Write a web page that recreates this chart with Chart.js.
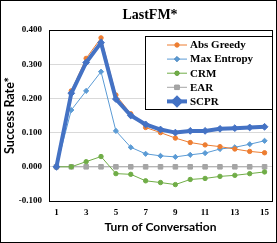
<!DOCTYPE html>
<html>
<head>
<meta charset="utf-8">
<script src="https://cdn.jsdelivr.net/npm/chart.js@4/dist/chart.umd.min.js"></script>
<style>
  html, body { margin: 0; padding: 0; background: #fff; }
  #wrap { width: 277px; height: 243px; position: relative; }
</style>
</head>
<body>
<div id="wrap"><canvas id="c"></canvas></div>
<script>
const turns = ["1", "2", "3", "4", "5", "6", "7", "8", "9", "10", "11", "12", "13", "14", "15"];
const absGreedy = [0, 0.222, 0.317, 0.377, 0.210, 0.155, 0.115, 0.100, 0.084, 0.071, 0.064, 0.059, 0.052, 0.045, 0.041];
const maxEntropy = [0, 0.166, 0.222, 0.278, 0.105, 0.057, 0.038, 0.032, 0.029, 0.035, 0.040, 0.052, 0.057, 0.066, 0.076];
const crm = [0, 0, 0.015, 0.030, -0.020, -0.022, -0.041, -0.046, -0.052, -0.037, -0.034, -0.028, -0.025, -0.020, -0.015];
const ear = [0, 0, 0, 0, 0, 0, 0, 0, 0, 0, 0, 0, 0, 0, 0];
const scpr = [0, 0.215, 0.305, 0.363, 0.198, 0.150, 0.124, 0.109, 0.100, 0.105, 0.105, 0.111, 0.113, 0.115, 0.117];
const yTicks = [-0.1, 0, 0.1, 0.2, 0.3, 0.4];

const SERIF = "'Liberation Serif', 'Times New Roman', serif";
const SANS = "Lato, 'Liberation Sans', sans-serif";

function series(label, data, color, style, width, radius, order) {
    return {
        label, data,
        borderColor: color, backgroundColor: color,
        borderWidth: width,
        pointStyle: style, pointRadius: radius,
        pointBorderWidth: 1, pointBorderColor: color, pointBackgroundColor: color,
        tension: 0, order,
    };
}

// frame, plot border, title and the boxed legend inside the plot
const decor = {
    id: "decor",
    afterDraw(chart) {
        const { ctx, chartArea: a } = chart;
        ctx.save();
        ctx.strokeStyle = "#000";
        ctx.lineWidth = 1;
        ctx.strokeRect(0.5, 0.5, chart.width - 1, chart.height - 1);
        ctx.strokeRect(Math.round(a.left) + 0.5, Math.round(a.top) + 0.5, Math.round(a.right - a.left), Math.round(a.bottom - a.top));

        ctx.fillStyle = "#000";
        ctx.font = "bold 14px " + SERIF;
        ctx.textAlign = "center";
        ctx.textBaseline = "middle";
        ctx.fillText("LastFM*", 150, 15);

        const bx = a.right - 127, by = a.top + 6, bw = 127, bh = 73;
        ctx.fillStyle = "#fff";
        ctx.fillRect(bx, by, bw, bh);
        ctx.strokeRect(Math.round(bx) + 0.5, Math.round(by) + 0.5, bw, bh);
        ctx.font = "bold 11px " + SERIF;
        ctx.textAlign = "left";
        chart.data.datasets.forEach((ds, i) => {
            const y = by + 9 + i * 14.1;
            const x0 = bx + 22, x1 = bx + 42;
            ctx.strokeStyle = ds.borderColor;
            ctx.lineWidth = ds.borderWidth;
            ctx.beginPath();
            ctx.moveTo(x0, y);
            ctx.lineTo(x1, y);
            ctx.stroke();
            Chart.helpers.drawPoint(ctx, {
                pointStyle: ds.pointStyle, radius: ds.pointRadius, borderWidth: 1, rotation: 0,
            }, (x0 + x1) / 2, y);
            ctx.fillStyle = ds.borderColor;
            ctx.fill();
            ctx.fillStyle = "#000";
            ctx.fillText(ds.label, x1 + 3, y + 0.5);
        });
        ctx.restore();
    },
};

new Chart(document.getElementById("c"), {
    type: "line",
    data: {
        labels: turns,
        datasets: [
            series("Abs Greedy", absGreedy, "#ED7D31", "circle", 1, 2.2, 1),
            series("Max Entropy", maxEntropy, "#5B9BD5", "rectRot", 1, 2.6, 1),
            series("CRM", crm, "#70AD47", "circle", 1, 2.2, 1),
            series("EAR", ear, "#A5A5A5", "rect", 1, 3.2, 1),
            series("SCPR", scpr, "#4472C4", "rectRot", 4, 3.4, 0),
        ],
    },
    options: {
        responsive: true,
        maintainAspectRatio: false,
        animation: false,
        layout: { padding: { top: 30, right: 3, bottom: 0, left: 0 } },
        plugins: {
            legend: { display: false },
            title: { display: false },
            tooltip: { enabled: false },
        },
        scales: {
            x: {
                type: "category",
                offset: true,
                grid: { display: false, drawTicks: false },
                border: { display: false },
                ticks: {
                    autoSkip: false, maxRotation: 0, padding: 6,
                    color: "#000",
                    font: { family: SERIF, size: 9, weight: "bold" },
                    callback: (v, i) => (i % 2 === 0 ? turns[i] : ""),
                },
                title: {
                    display: true, text: "Turn of Conversation", color: "#000",
                    font: { family: SANS, size: 12, weight: "bold" },
                    padding: { top: 0, bottom: 9 },
                },
                afterFit: (s) => { s.height = 42; },
            },
            y: {
                min: -0.1, max: 0.4,
                afterBuildTicks: (s) => { s.ticks = yTicks.map((v) => ({ value: v })); },
                grid: { color: "#D9D9D9", drawTicks: false },
                border: { display: false },
                ticks: {
                    padding: 7, color: "#000",
                    font: { family: SERIF, size: 9, weight: "bold" },
                    callback: (v) => v.toFixed(3),
                },
                title: {
                    display: true, text: "Success Rate*", color: "#000",
                    font: { family: SANS, size: 12.5, weight: "bold" },
                    padding: { top: 2, bottom: 0 },
                },
                afterFit: (s) => { s.width = 49; },
            },
        },
    },
    plugins: [decor],
});
</script>
</body>
</html>
